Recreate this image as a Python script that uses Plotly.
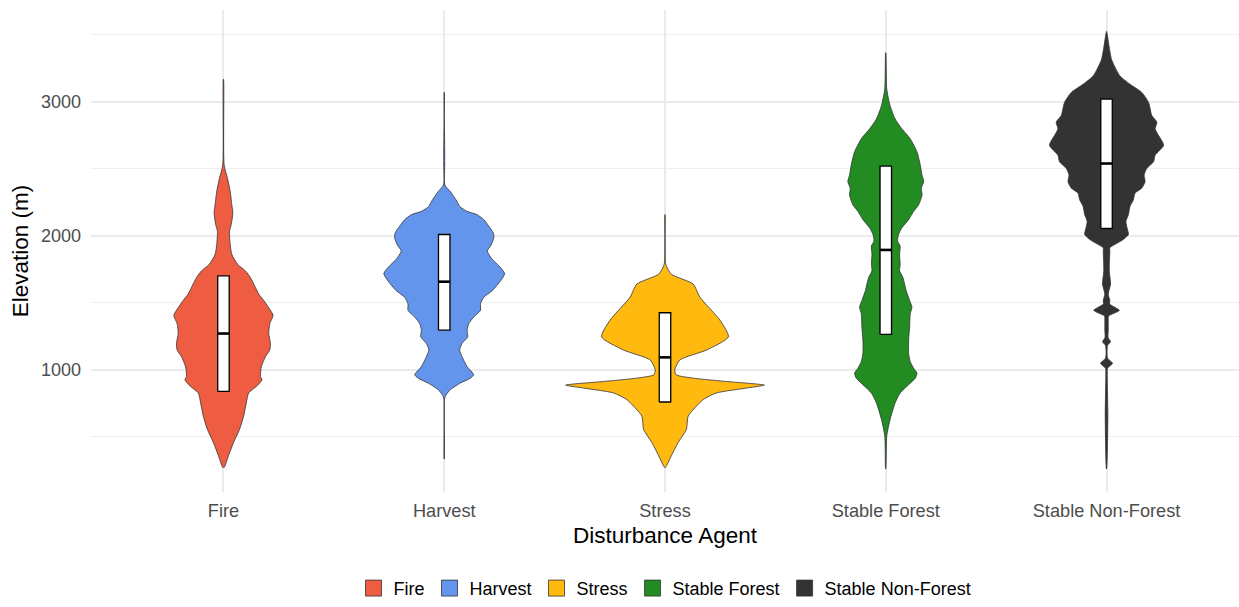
import plotly.graph_objects as go

# Disturbance agents shown along the x axis
agents = ["Fire", "Harvest", "Stress", "Stable Forest", "Stable Non-Forest"]
colors = ["#EE5C42", "#6495ED", "#FFB90F", "#228B22", "#333333"]

# Density profiles (elevation in m, relative density) for each agent
fire_elev = [270, 357, 455, 554, 652, 751, 825, 874, 924, 948, 1022, 1096, 1146, 1195, 1268, 1342, 1405, 1442,
             1516, 1564, 1614, 1688, 1737, 1786, 1860, 1934, 2033, 2082, 2169, 2230, 2329, 2428, 2526, 3167]
fire_dens = [0.7, 5, 10, 16, 20, 22.7, 25, 32.7, 38.3, 36.7, 37.7, 41.7, 46, 46.7, 45, 46, 49.3, 46.7,
             40, 35, 31.7, 26.7, 21.7, 14, 8.3, 6.7, 6, 7.7, 9.3, 8.3, 6.7, 4, 0.7, 0.1]

harvest_elev = [332, 780, 813, 850, 899, 936, 961, 1022, 1096, 1146, 1195, 1244, 1294, 1342, 1392, 1442, 1490,
                1540, 1589, 1663, 1717, 1774, 1823, 1885, 1922, 1984, 2021, 2070, 2119, 2156, 2181, 2218, 2255,
                2329, 2378, 3069]
harvest_dens = [0.1, 0.3, 2, 6, 16, 26, 29.3, 22.7, 17.7, 15.3, 17.7, 23.3, 22.7, 24.3, 29.3, 36, 36,
                39.3, 47.7, 56, 60, 54.3, 47.7, 42.7, 46, 49.3, 48.7, 44.3, 39.3, 32.7, 22.7, 15.3, 12.7,
                6, 0.7, 0.1]

stress_elev = [270, 357, 455, 554, 652, 776, 825, 862, 884, 911, 936, 961, 998, 1072, 1146, 1244, 1368, 1540,
               1638, 1712, 1786, 2156]
stress_dens = [0.5, 6.3, 13, 21.3, 23, 38, 51, 81, 98.7, 61, 28, 11, 9.7, 14.7, 41.3, 63, 54.7, 34.7,
               28, 6.3, 0.8, 0.1]

forest_elev = [258, 504, 628, 751, 825, 887, 936, 973, 1010, 1059, 1121, 1220, 1318, 1416, 1466, 1516, 1589,
               1688, 1737, 1786, 1860, 1922, 1959, 2008, 2058, 2119, 2181, 2230, 2304, 2354, 2403, 2452, 2526,
               2625, 2723, 2797, 2871, 2970, 3093, 3365]
forest_dens = [0.1, 1, 4.3, 9.3, 14.3, 22.7, 29.3, 31, 27.7, 24.3, 22.7, 22.7, 23.7, 24.3, 26, 23.7, 20.3,
               17, 13.7, 14.3, 13.7, 14.3, 11.7, 12.7, 16, 22.7, 27.7, 32.7, 36, 35.3, 37.7, 36, 34.3,
               31, 24.3, 16, 9.3, 4.3, 1, 0.1]

nonforest_elev = [258, 652, 973, 1010, 1047, 1085, 1180, 1207, 1240, 1294, 1379, 1400, 1442, 1490, 1515, 1564,
                  1638, 1737, 1885, 1910, 1934, 1971, 2008, 2070, 2107, 2156, 2218, 2267, 2317, 2354, 2403,
                  2452, 2501, 2551, 2600, 2674, 2760, 2797, 2847, 2896, 2995, 3069, 3130, 3192, 3315, 3524]
nonforest_dens = [0.1, 1.3, 0.7, 1, 6, 1, 1, 4, 1.5, 1.7, 1.7, 2, 12.7, 3, 3.3, 1.7,
                  4, 2.7, 3.3, 3.3, 8.3, 16.7, 21.7, 20, 19.3, 21.7, 23.3, 26.7, 28.3, 35, 38.3,
                  37.3, 40, 46.7, 48.3, 56.7, 50.7, 48.3, 50, 45, 41.7, 35, 23.3, 13.3, 5, 0.1]

# Box summaries (m)
q1 = [837, 1294, 758, 1262, 2053]
median = [1269, 1656, 1091, 1893, 2538]
q3 = [1700, 2008, 1424, 2519, 3019]

profiles = [
    (fire_elev, fire_dens),
    (harvest_elev, harvest_dens),
    (stress_elev, stress_dens),
    (forest_elev, forest_dens),
    (nonforest_elev, nonforest_dens),
]

VIOLIN_HALF = 0.45   # widest violin spans 0.9 category units
BOX_HALF = 0.026
max_dens = max(max(d) for _, d in profiles)

fig = go.Figure()

for i, ((elev, dens), col) in enumerate(zip(profiles, colors)):
    pos = i + 1
    hw = [VIOLIN_HALF * d / max_dens for d in dens]
    xs = [pos + w for w in hw] + [pos - w for w in reversed(hw)]
    ys = list(elev) + list(reversed(elev))
    xs.append(xs[0])
    ys.append(ys[0])
    fig.add_trace(go.Scatter(
        x=xs, y=ys, mode="lines", fill="toself", fillcolor=col,
        line=dict(color="#333333", width=0.8, shape="spline", smoothing=0.6),
        showlegend=False, hoverinfo="skip",
    ))

for i in range(len(agents)):
    pos = i + 1
    fig.add_trace(go.Scatter(
        x=[pos - BOX_HALF, pos + BOX_HALF, pos + BOX_HALF, pos - BOX_HALF, pos - BOX_HALF],
        y=[q1[i], q1[i], q3[i], q3[i], q1[i]],
        mode="lines", fill="toself", fillcolor="white",
        line=dict(color="black", width=1.3),
        showlegend=False, hoverinfo="skip",
    ))
    fig.add_trace(go.Scatter(
        x=[pos - BOX_HALF, pos + BOX_HALF], y=[median[i], median[i]],
        mode="lines", line=dict(color="black", width=2.6),
        showlegend=False, hoverinfo="skip",
    ))

# Legend keys
for name, col in zip(agents, colors):
    fig.add_trace(go.Scatter(
        x=[None], y=[None], mode="markers", name=name,
        marker=dict(symbol="square", size=16, color=col, line=dict(color="#333333", width=0.8)),
    ))

fig.update_layout(
    width=1239, height=607,
    margin=dict(l=91, r=0, t=10, b=110),
    paper_bgcolor="white", plot_bgcolor="white",
    font=dict(family="Liberation Sans, Arial, sans-serif", color="black"),
    legend=dict(
        orientation="h", x=0.5, xanchor="center", y=-0.2, yanchor="middle",
        font=dict(size=18, color="black"), itemsizing="trace",
    ),
    xaxis=dict(
        range=[0.4, 5.6], tickvals=[1, 2, 3, 4, 5], ticktext=agents,
        showgrid=True, gridcolor="#EBEBEB", gridwidth=1.6,
        zeroline=False, showline=False, ticks="",
        tickfont=dict(size=18.2, color="#4D4D4D"),
        ticklabelstandoff=6,
        title=dict(text="Disturbance Agent", font=dict(size=22.5, color="black"), standoff=7),
    ),
    yaxis=dict(
        range=[86, 3684], tickvals=[1000, 2000, 3000],
        showgrid=True, gridcolor="#EBEBEB", gridwidth=1.6,
        minor=dict(tickvals=[500, 1500, 2500, 3500], showgrid=True, gridcolor="#EFEFEF", gridwidth=1),
        zeroline=False, showline=False, ticks="",
        tickfont=dict(size=18, color="#4D4D4D"),
        ticklabelstandoff=9,
        title=dict(text="Elevation (m)", font=dict(size=22.5, color="black"), standoff=6),
    ),
)

fig.write_html("out.html")
